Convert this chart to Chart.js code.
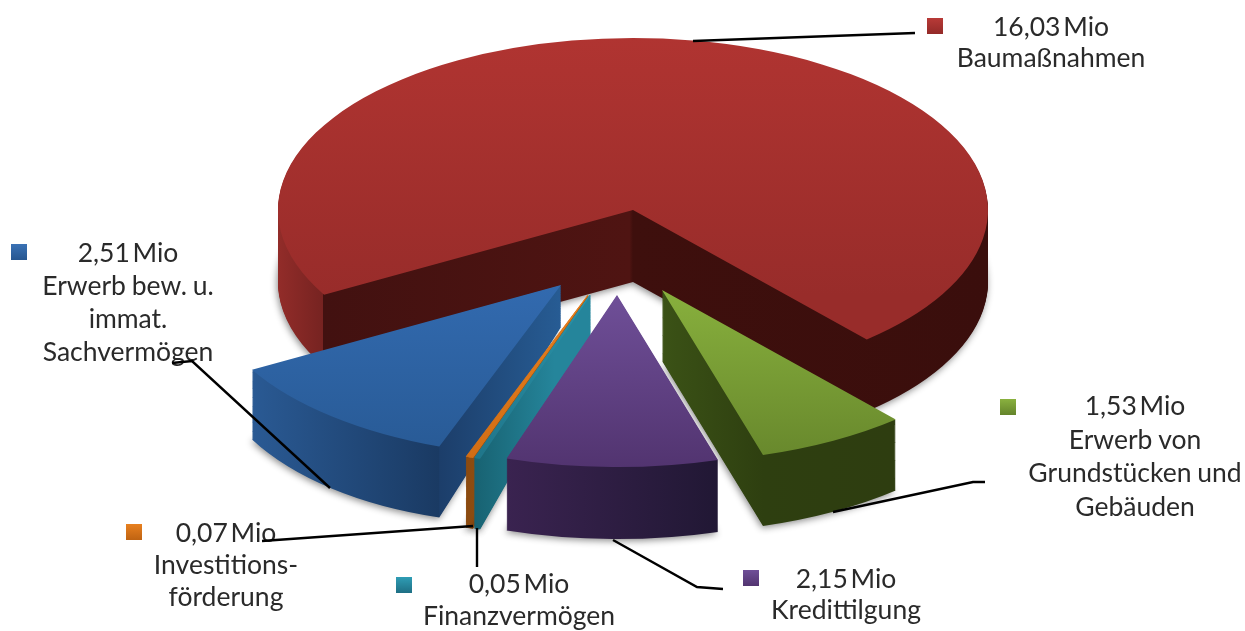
<!DOCTYPE html>
<html>
<head>
<meta charset="utf-8">
<script src="https://cdn.jsdelivr.net/npm/chart.js@4"></script>
<style>
  html, body { margin: 0; padding: 0; background: #fff; }
  canvas { display: block; }
</style>
</head>
<body>
<canvas id="chart" width="1245" height="631"></canvas>
<script>
const categories = ['Baumaßnahmen', 'Erwerb von Grundstücken und Gebäuden', 'Kredittilgung', 'Finanzvermögen', 'Investitionsförderung', 'Erwerb bew. u. immat. Sachvermögen']
const values = [16.03, 1.53, 2.15, 0.05, 0.07, 2.51]
const labelLines = [
  ['Baumaßnahmen'],
  ['Erwerb von', 'Grundstücken und', 'Gebäuden'],
  ['Kredittilgung'],
  ['Finanzvermögen'],
  ['Investitions-', 'förderung'],
  ['Erwerb bew. u.', 'immat.', 'Sachvermögen'],
]

const X_STRETCH = 355 / 172
const DEPTH = 72
// back to front
const drawOrder = [0, 5, 4, 3, 1, 2]

// shear = depth of the wall changes over the slice, like the perspective in the original
// edge = outline on the wall layers, very thin slices leave gaps without it
const sliceStyles = [
  {
    move: [0, 0], depth: DEPTH, shear: [0, 0], edge: 0,
    top: [[-1, '#b03431'], [0.5, '#982c2a']],
    wall: [[-1, '#922c29'], [-0.873, '#762321'], [-0.872, '#421110'], [-0.01, '#4f1412'], [0, '#3e0f0d'], [1, '#3a0e0c']],
    marker: ['#b83a37', '#932a28'],
  },
  {
    move: [29, 80], depth: 71, shear: [0, 0], edge: 0,
    top: [[0, '#88b03d'], [1, '#67872c']],
    wall: [[0, '#3b5216'], [0.287, '#2e3f10'], [1, '#2e3b10']],
    marker: ['#8ab13f', '#64842b'],
  },
  {
    move: [-16, 85], depth: 72, shear: [0, 0], edge: 0,
    top: [[0, '#6f4f98'], [1, '#523470']],
    wall: [[-0.31, '#3a2350'], [0.31, '#201733']],
    marker: ['#6f4f98', '#523470'],
  },
  {
    move: [-43, 85], depth: 42, shear: [-0.052, 0.14], edge: 0.7,
    top: [[0, '#2a93aa'], [1, '#1f7488']],
    wall: [[-0.34, '#17606f'], [-0.1, '#25859b']],
    marker: ['#2f9db5', '#1e6f84'],
  },
  {
    move: [-45, 85], depth: 42, shear: [-0.052, 0.14], edge: 0.5,
    top: [[0, '#e8801f'], [1, '#cf6c14']],
    wall: [[-0.35, '#8a4a10'], [-0.1, '#a5590f']],
    marker: ['#e8801f', '#bf6312'],
  },
  {
    move: [-72, 75], depth: 42, shear: [-0.052, 0.14], edge: 0,
    top: [[0, '#326aaf'], [1, '#285a95']],
    wall: [[-0.875, '#2a5a94'], [-0.343, '#1a3a63'], [-0.342, '#1c3e6a'], [0, '#275c94']],
    marker: ['#3a72b5', '#265690'],
  },
]

// text layout, one entry per category
const labelBoxes = [
  { x: 1051, y: 36, lh: 31, marker: [927, 18] },
  { x: 1135, y: 415, lh: 33.6, marker: [1000, 399] },
  { x: 846, y: 588, lh: 31, marker: [743, 570] },
  { x: 519, y: 593, lh: 32, marker: [396, 577] },
  { x: 226, y: 542, lh: 32, marker: [126, 524] },
  { x: 128, y: 262, lh: 33, marker: [11, 244] },
]
const leaders = [
  [[693, 41], [915, 33]],
  [[833, 512], [973, 482], [985, 482]],
  [[613, 540], [697, 587], [723, 589]],
  [[477, 528], [477, 567]],
  [[262, 541], [473, 526]],
  [[172, 363], [192, 361], [330, 488]],
]

function formatValue(v) {
  return v.toFixed(2).replace('.', ',') + ' Mio'
}

function makeGradient(ctx, arc, stops, vertical) {
  const R = arc.outerRadius
  const g = vertical
    ? ctx.createLinearGradient(0, arc.y - R, 0, arc.y + R)
    : ctx.createLinearGradient(arc.x - R, 0, arc.x + R, 0)
  stops.forEach(([u, color]) => g.addColorStop((u + 1) / 2, color))
  return g
}

function drawWith(ctx, arc, fill, edge) {
  const saved = arc.options
  arc.options = Object.assign({}, saved, { backgroundColor: fill, borderColor: fill, borderWidth: edge || 0 })
  arc.draw(ctx)
  arc.options = saved
}

function place(ctx, arc, style, t) {
  const [ox, oy] = style.move
  const [ax, ay] = style.shear
  ctx.translate(arc.x + ox, arc.y + oy + t * style.depth)
  ctx.transform(X_STRETCH, t * ax * X_STRETCH, 0, 1 + t * ay, 0, 0)
  ctx.translate(-arc.x, -arc.y)
}

function drawSlice(ctx, arc, style) {
  const wall = makeGradient(ctx, arc, style.wall, false)
  for (let k = DEPTH; k >= 1; k--) {
    ctx.save()
    if (k === DEPTH) {
      ctx.shadowColor = 'rgba(0,0,0,0.45)'
      ctx.shadowBlur = 7
      ctx.shadowOffsetX = -1
      ctx.shadowOffsetY = 2
    }
    place(ctx, arc, style, k / DEPTH)
    drawWith(ctx, arc, wall, style.edge)
    ctx.restore()
  }
  ctx.save()
  place(ctx, arc, style, 0)
  drawWith(ctx, arc, makeGradient(ctx, arc, style.top, true), style.edge)
  ctx.restore()
}

const pie3d = {
  id: 'pie3d',
  beforeDatasetsDraw(chart) {
    const arcs = chart.getDatasetMeta(0).data
    drawOrder.forEach((i) => drawSlice(chart.ctx, arcs[i], sliceStyles[i]))
    return false
  },
  afterDraw(chart) {
    const ctx = chart.ctx
    ctx.save()
    ctx.font = '26.5px Lato'
    ctx.textAlign = 'center'
    ctx.textBaseline = 'alphabetic'
    values.forEach((v, i) => {
      const box = labelBoxes[i]
      ctx.fillStyle = '#2a2a2a'
      ctx.wordSpacing = '-4px'
      ctx.fillText(formatValue(v), box.x, box.y)
      ctx.wordSpacing = '-1px'
      labelLines[i].forEach((line, n) => ctx.fillText(line, box.x, box.y + (n + 1) * box.lh))
      const [mx, my] = box.marker
      const g = ctx.createLinearGradient(0, my, 0, my + 16)
      g.addColorStop(0, sliceStyles[i].marker[0])
      g.addColorStop(1, sliceStyles[i].marker[1])
      ctx.fillStyle = g
      ctx.fillRect(mx, my, 16, 16)
    })
    ctx.strokeStyle = '#000'
    ctx.lineWidth = 2.4
    leaders.forEach((pts) => {
      ctx.beginPath()
      pts.forEach(([x, y], n) => (n ? ctx.lineTo(x, y) : ctx.moveTo(x, y)))
      ctx.stroke()
    })
    ctx.restore()
  },
}

new Chart(document.getElementById('chart'), {
  type: 'pie',
  data: {
    labels: categories,
    datasets: [{ data: values, borderWidth: 0 }],
  },
  options: {
    responsive: false,
    animation: false,
    rotation: 240.5,
    // chart area is the top ellipse's height, the x stretch does the rest
    layout: { padding: { top: 38, bottom: 249, left: 278, right: 257 } },
    plugins: { legend: { display: false }, tooltip: { enabled: false } },
  },
  plugins: [pie3d],
})
</script>
</body>
</html>
